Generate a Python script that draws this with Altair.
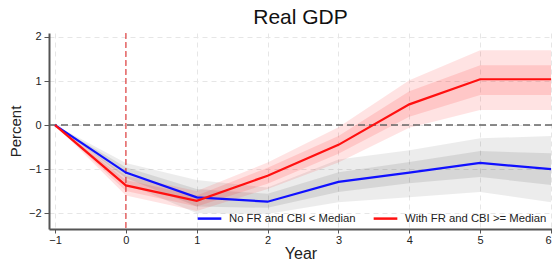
import altair as alt
import pandas as pd

years = [-1, 0, 1, 2, 3, 4, 5, 6]

blue_label = "No FR and CBI < Median"
red_label = "With FR and CBI >= Median"

blue_mid = [0, -1.08, -1.64, -1.74, -1.29, -1.08, -0.86, -1.00]
blue_in_lo = [0, -1.20, -1.85, -1.88, -1.52, -1.32, -1.18, -1.36]
blue_in_hi = [0, -0.96, -1.45, -1.56, -1.07, -0.84, -0.59, -0.64]
blue_out_lo = [0, -1.32, -2.00, -2.02, -1.75, -1.64, -1.52, -1.75]
blue_out_hi = [0, -0.86, -1.25, -1.42, -0.78, -0.57, -0.30, -0.25]

red_mid = [0, -1.37, -1.72, -1.15, -0.45, 0.47, 1.04, 1.04]
red_in_lo = [0, -1.50, -1.85, -1.33, -0.65, 0.19, 0.68, 0.68]
red_in_hi = [0, -1.25, -1.60, -0.97, -0.25, 0.77, 1.36, 1.36]
red_out_lo = [0, -1.60, -1.95, -1.45, -0.85, -0.06, 0.34, 0.34]
red_out_hi = [0, -1.15, -1.50, -0.85, -0.05, 1.02, 1.70, 1.70]

rows = []
for i, yr in enumerate(years):
    rows.append(dict(year=yr, series=blue_label, mid=blue_mid[i],
                     in_lo=blue_in_lo[i], in_hi=blue_in_hi[i],
                     out_lo=blue_out_lo[i], out_hi=blue_out_hi[i]))
for i, yr in enumerate(years):
    rows.append(dict(year=yr, series=red_label, mid=red_mid[i],
                     in_lo=red_in_lo[i], in_hi=red_in_hi[i],
                     out_lo=red_out_lo[i], out_hi=red_out_hi[i]))
df = pd.DataFrame(rows)
df_blue = df[df.series == blue_label]
df_red = df[df.series == red_label]

xs = alt.Scale(domain=[-1.085, 6.014], nice=False, zero=False)
ys = alt.Scale(domain=[-2.36, 2.09], nice=False, zero=False)

xax = alt.Axis(values=years, format="d", title="Year", grid=True,
               gridDash=[5, 4], gridColor="#e6e6e6", titleFontSize=16,
               titleFontWeight="normal", titleY=29, titleBaseline="alphabetic",
               tickSize=4, labelPadding=1)
yax = alt.Axis(values=[-2, -1, 0, 1, 2], format="d", title="Percent", grid=True,
               gridDash=[5, 4], gridColor="#e6e6e6", titleFontSize=15,
               titleFontWeight="normal", titlePadding=5, tickSize=5, labelPadding=3)

X = alt.X("year:Q", scale=xs, axis=xax)


def band(data, lo, hi, color, op):
    return alt.Chart(data).mark_area(color=color, opacity=op).encode(
        x=X, y=alt.Y(f"{lo}:Q", scale=ys, axis=yax), y2=f"{hi}:Q")


layers = [
    band(df_blue, "out_lo", "out_hi", "black", 0.075),
    band(df_blue, "in_lo", "in_hi", "black", 0.09),
    band(df_red, "out_lo", "out_hi", "red", 0.11),
    band(df_red, "in_lo", "in_hi", "red", 0.12),
]

zero = pd.DataFrame({"v": [0]})
hrule = alt.Chart(zero).mark_rule(color="#666666", strokeDash=[7, 4], strokeWidth=1.6).encode(
    y=alt.Y("v:Q", scale=ys))
vrule = alt.Chart(zero).mark_rule(color="#e02020", strokeDash=[6, 3], strokeWidth=1).encode(
    x=alt.X("v:Q", scale=xs))

lines = alt.Chart(df).mark_line(strokeWidth=2.2).encode(
    x=X,
    y=alt.Y("mid:Q", scale=ys),
    color=alt.Color("series:N",
                    scale=alt.Scale(domain=[blue_label, red_label], range=["#1010ff", "#ff1010"]),
                    sort=[blue_label, red_label],
                    legend=alt.Legend(title=None, orient="none", legendX=147, legendY=172,
                                      direction="horizontal", columns=2, columnPadding=12,
                                      symbolType="stroke", symbolSize=560, symbolStrokeWidth=2.5,
                                      labelFontSize=11.3, labelColor="#222222", labelOffset=6,
                                      labelLimit=300)),
    order=alt.Order("series:N"),
)

chart = alt.layer(*layers, hrule, vrule, lines).properties(
    width=503, height=196,
    autosize=alt.AutoSizeParams(type="none"),
    padding={"left": 41, "top": 25, "right": 0, "bottom": 31},
    title=alt.Title("Real GDP", fontSize=21, fontWeight="normal", offset=3, color="#111111"),
).configure(font="Liberation Sans").configure_axis(
    domainColor="#555555", domainWidth=2, tickColor="#555555",
    labelFontSize=11, labelColor="#222222", titleColor="#222222",
).configure_view(stroke=None)

chart.save("out.html", embed_options={"renderer": "svg", "actions": False})
